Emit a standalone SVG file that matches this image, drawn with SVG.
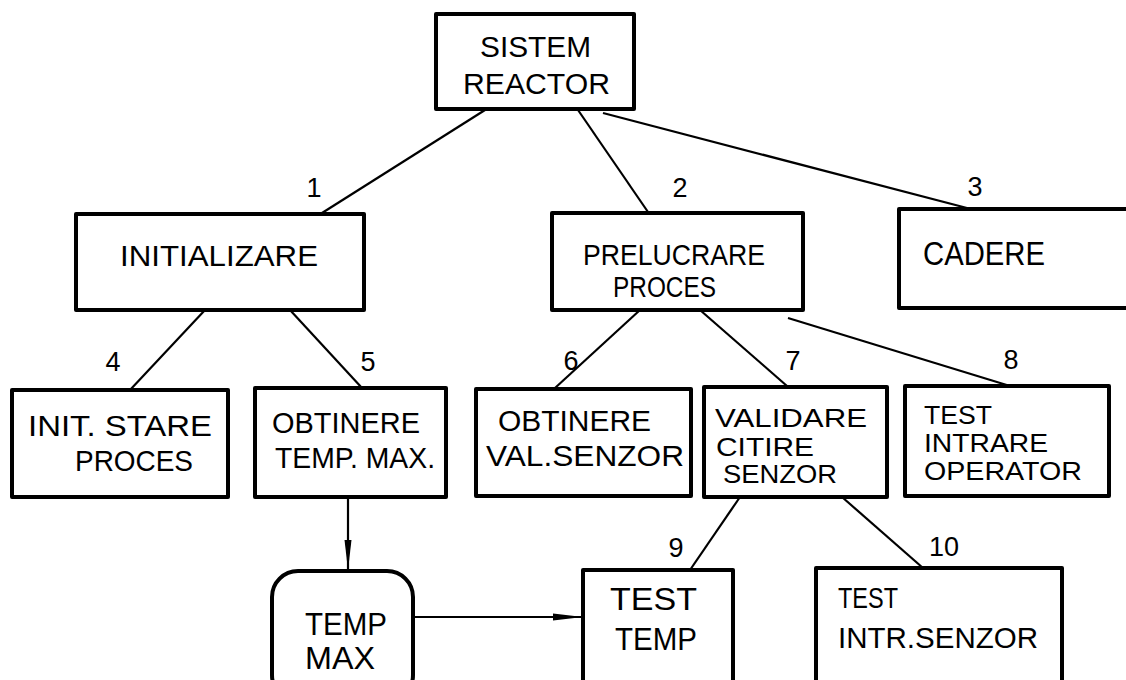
<svg xmlns="http://www.w3.org/2000/svg" width="1126" height="680" viewBox="0 0 1126 680">
  <style>
    .box { fill: #fff; stroke: #000; stroke-width: 4; stroke-linejoin: round; }
    .edge { fill: none; stroke: #000; stroke-width: 2.2; }
    .lbl { font-family: "Liberation Sans", "DejaVu Sans", sans-serif; font-size: 30px; fill: #000; }
    .sm { font-size: 26px; }
    .num { font-family: "Liberation Sans", "DejaVu Sans", sans-serif; font-size: 27px; fill: #000; text-anchor: middle; }
  </style>
  <defs>
    <marker id="arrow" viewBox="0 0 30 10" refX="30" refY="5" markerWidth="30" markerHeight="10" markerUnits="userSpaceOnUse" orient="auto">
      <path d="M0,1.5 L30,5 L0,8.5 Z" fill="#000"/>
    </marker>
  </defs>
  <rect width="1126" height="680" fill="#fff"/>

  <!-- connectors and their numbers -->
  <g id="connectors">
    <line class="edge" x1="485" y1="110" x2="322" y2="213"/>
    <line class="edge" x1="578" y1="110" x2="648" y2="212"/>
    <line class="edge" x1="603" y1="113" x2="967" y2="208"/>
    <line class="edge" x1="205" y1="310" x2="130" y2="390"/>
    <line class="edge" x1="290" y1="310" x2="362" y2="388"/>
    <line class="edge" x1="640" y1="310" x2="555" y2="388"/>
    <line class="edge" x1="700" y1="310" x2="787" y2="386"/>
    <line class="edge" x1="788" y1="318" x2="1010" y2="386"/>
    <line class="edge" x1="740" y1="497" x2="690" y2="570"/>
    <line class="edge" x1="842" y1="497" x2="923" y2="568"/>
    <line class="edge" x1="348" y1="498" x2="348" y2="570" marker-end="url(#arrow)"/>
    <line class="edge" x1="413" y1="617" x2="583" y2="617" marker-end="url(#arrow)"/>
    <text class="num" x="314" y="197">1</text>
    <text class="num" x="680" y="197">2</text>
    <text class="num" x="975" y="196">3</text>
    <text class="num" x="113" y="371">4</text>
    <text class="num" x="368" y="371">5</text>
    <text class="num" x="571" y="370">6</text>
    <text class="num" x="793" y="370">7</text>
    <text class="num" x="1011" y="369">8</text>
    <text class="num" x="676" y="557">9</text>
    <text class="num" x="944" y="556">10</text>
  </g>

  <g id="sistem-reactor">
    <rect class="box" x="436" y="14" width="198" height="95"/>
    <text class="lbl" x="480" y="57" textLength="111" lengthAdjust="spacingAndGlyphs">SISTEM</text>
    <text class="lbl" x="463" y="94" textLength="147" lengthAdjust="spacingAndGlyphs">REACTOR</text>
  </g>

  <g id="initializare">
    <rect class="box" x="76" y="214" width="288" height="96"/>
    <text class="lbl" x="120" y="266" textLength="198" lengthAdjust="spacingAndGlyphs">INITIALIZARE</text>
  </g>

  <g id="prelucrare-proces">
    <rect class="box" x="552" y="213" width="251" height="97"/>
    <text class="lbl" x="583" y="265" textLength="182" lengthAdjust="spacingAndGlyphs">PRELUCRARE</text>
    <text class="lbl" x="613" y="297" textLength="103" lengthAdjust="spacingAndGlyphs">PROCES</text>
  </g>

  <g id="cadere">
    <rect class="box" x="899" y="209" width="240" height="99"/>
    <text class="lbl" x="923" y="265" textLength="122" lengthAdjust="spacingAndGlyphs" style="font-size:34px">CADERE</text>
  </g>

  <g id="init-stare-proces">
    <rect class="box" x="12" y="390" width="216" height="107"/>
    <text class="lbl" x="28" y="436" textLength="184" lengthAdjust="spacingAndGlyphs">INIT. STARE</text>
    <text class="lbl" x="75" y="471" textLength="118" lengthAdjust="spacingAndGlyphs">PROCES</text>
  </g>

  <g id="obtinere-temp-max">
    <rect class="box" x="255" y="388" width="191" height="109"/>
    <text class="lbl" x="272" y="433" textLength="148" lengthAdjust="spacingAndGlyphs">OBTINERE</text>
    <text class="lbl" x="275" y="468" textLength="160" lengthAdjust="spacingAndGlyphs">TEMP. MAX.</text>
  </g>

  <g id="obtinere-val-senzor">
    <rect class="box" x="476" y="389" width="215" height="107"/>
    <text class="lbl" x="498" y="431" textLength="153" lengthAdjust="spacingAndGlyphs">OBTINERE</text>
    <text class="lbl" x="486" y="466" textLength="198" lengthAdjust="spacingAndGlyphs">VAL.SENZOR</text>
  </g>

  <g id="validare-citire-senzor">
    <rect class="box" x="704" y="387" width="183" height="110"/>
    <text class="lbl sm" x="715" y="427" textLength="152" lengthAdjust="spacingAndGlyphs">VALIDARE</text>
    <text class="lbl sm" x="716" y="456" textLength="98" lengthAdjust="spacingAndGlyphs">CITIRE</text>
    <text class="lbl sm" x="723" y="483" textLength="114" lengthAdjust="spacingAndGlyphs">SENZOR</text>
  </g>

  <g id="test-intrare-operator">
    <rect class="box" x="905" y="386" width="204" height="110"/>
    <text class="lbl sm" x="924" y="424" textLength="68" lengthAdjust="spacingAndGlyphs">TEST</text>
    <text class="lbl sm" x="924" y="452" textLength="124" lengthAdjust="spacingAndGlyphs">INTRARE</text>
    <text class="lbl sm" x="924" y="480" textLength="158" lengthAdjust="spacingAndGlyphs">OPERATOR</text>
  </g>

  <g id="temp-max">
    <rect class="box" x="272" y="571" width="141" height="130" rx="26" ry="26"/>
    <text class="lbl" x="305" y="635" textLength="82" lengthAdjust="spacingAndGlyphs" style="font-size:31px">TEMP</text>
    <text class="lbl" x="305" y="669" textLength="70" lengthAdjust="spacingAndGlyphs" style="font-size:31px">MAX</text>
  </g>

  <g id="test-temp">
    <rect class="box" x="583" y="570" width="150" height="130"/>
    <text class="lbl" x="610" y="610" textLength="87" lengthAdjust="spacingAndGlyphs" style="font-size:31px">TEST</text>
    <text class="lbl" x="615" y="650" textLength="82" lengthAdjust="spacingAndGlyphs" style="font-size:31px">TEMP</text>
  </g>

  <g id="test-intr-senzor">
    <rect class="box" x="816" y="568" width="246" height="130"/>
    <text class="lbl" x="838" y="608" textLength="60" lengthAdjust="spacingAndGlyphs">TEST</text>
    <text class="lbl" x="838" y="648" textLength="200" lengthAdjust="spacingAndGlyphs">INTR.SENZOR</text>
  </g>
</svg>
